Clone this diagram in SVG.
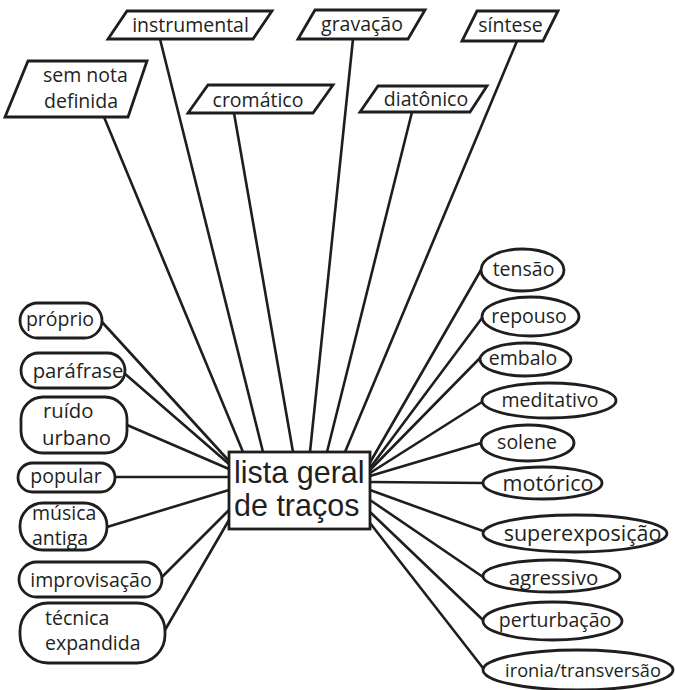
<svg xmlns="http://www.w3.org/2000/svg" width="675" height="690" viewBox="0 0 675 690">
<style>
  .bg { fill: #ffffff; }
  .edge { stroke: #1e1e1e; stroke-width: 2.6; fill: none; stroke-linecap: round; }
  .shape { fill: #ffffff; stroke: #1e1e1e; stroke-width: 2.8; stroke-linejoin: miter; }
  .lbl { font-family: "Open Sans", "Noto Sans", sans-serif; font-size: 19.5px; fill: #231f20; }
  .mid { text-anchor: middle; }
  .center { font-family: "Liberation Sans", Arial, sans-serif; font-size: 30.5px; fill: #231f20; }
</style>
<rect class="bg" x="0" y="0" width="675" height="690"/>

<g id="connectors">
  <line class="edge" x1="104" y1="117" x2="243" y2="452"/>
  <line class="edge" x1="160" y1="39" x2="263" y2="452"/>
  <line class="edge" x1="234" y1="113" x2="293" y2="452"/>
  <line class="edge" x1="353" y1="39" x2="310" y2="452"/>
  <line class="edge" x1="412" y1="112" x2="327" y2="452"/>
  <line class="edge" x1="517" y1="41" x2="345" y2="452"/>

  <line class="edge" x1="102" y1="322" x2="229" y2="461"/>
  <line class="edge" x1="124" y1="373" x2="229" y2="464"/>
  <line class="edge" x1="127" y1="425" x2="229" y2="469"/>
  <line class="edge" x1="115" y1="477" x2="229" y2="477"/>
  <line class="edge" x1="107" y1="527" x2="229" y2="490"/>
  <line class="edge" x1="161" y1="578" x2="229" y2="510"/>
  <line class="edge" x1="165" y1="630" x2="229" y2="520"/>

  <line class="edge" x1="368" y1="466" x2="481" y2="270"/>
  <line class="edge" x1="370" y1="468" x2="482" y2="318"/>
  <line class="edge" x1="370" y1="470" x2="480" y2="358"/>
  <line class="edge" x1="370" y1="473" x2="482" y2="402"/>
  <line class="edge" x1="370" y1="476" x2="481" y2="443"/>
  <line class="edge" x1="370" y1="482" x2="483" y2="483"/>
  <line class="edge" x1="370" y1="490" x2="483" y2="531"/>
  <line class="edge" x1="370" y1="500" x2="483" y2="577"/>
  <line class="edge" x1="370" y1="512" x2="483" y2="620"/>
  <line class="edge" x1="370" y1="523" x2="483" y2="668"/>
</g>

<g id="center">
  <rect class="shape" x="229" y="452" width="141" height="77" stroke-width="3"/>
  <text class="center" x="234" y="483">lista geral</text>
  <text class="center" x="234" y="516">de traços</text>
</g>

<g id="instrumental">
  <polygon class="shape" points="127,11 272,11 253,39 108,39"/>
  <text class="lbl mid" x="190.5" y="32">instrumental</text>
</g>
<g id="gravacao">
  <polygon class="shape" points="315,10 425,10 408,39 298,39"/>
  <text class="lbl mid" x="362" y="31">gravação</text>
</g>
<g id="sintese">
  <polygon class="shape" points="477,11 558,11 543,41 462,41"/>
  <text class="lbl mid" x="510.5" y="32">síntese</text>
</g>
<g id="sem-nota-definida">
  <polygon class="shape" points="28,61 147,61 128,117 5,117"/>
  <text class="lbl" x="43" y="82">sem nota</text>
  <text class="lbl" x="44" y="108">definida</text>
</g>
<g id="cromatico">
  <polygon class="shape" points="208,85 333,85 313,113 188,113"/>
  <text class="lbl mid" x="258" y="107">cromático</text>
</g>
<g id="diatonico">
  <polygon class="shape" points="378,86 487,86 470,112 360,112"/>
  <text class="lbl mid" x="426" y="105.5">diatônico</text>
</g>

<g id="proprio">
  <rect class="shape" x="20" y="303" width="82" height="35" rx="17.5"/>
  <text class="lbl mid" x="60" y="326">próprio</text>
</g>
<g id="parafrase">
  <rect class="shape" x="21" y="353" width="104" height="35" rx="17.5"/>
  <text class="lbl mid" x="78" y="378" style="font-size:20.3px">paráfrase</text>
</g>
<g id="ruido-urbano">
  <rect class="shape" x="21" y="397" width="106" height="56" rx="22"/>
  <text class="lbl" x="43" y="418" style="font-size:20.3px">ruído</text>
  <text class="lbl" x="42" y="445" style="font-size:20.3px">urbano</text>
</g>
<g id="popular">
  <rect class="shape" x="18" y="463" width="97" height="29" rx="14.5"/>
  <text class="lbl mid" x="66" y="483">popular</text>
</g>
<g id="musica-antiga">
  <rect class="shape" x="20" y="503" width="87" height="47" rx="23"/>
  <text class="lbl" x="32" y="520">música</text>
  <text class="lbl" x="32" y="545">antiga</text>
</g>
<g id="improvisacao">
  <rect class="shape" x="19" y="562" width="143" height="35" rx="17.5"/>
  <text class="lbl mid" x="91" y="587">improvisação</text>
</g>
<g id="tecnica-expandida">
  <rect class="shape" x="20" y="603" width="145" height="60" rx="28"/>
  <text class="lbl" x="45" y="625">técnica</text>
  <text class="lbl" x="45" y="650">expandida</text>
</g>

<g id="tensao">
  <ellipse class="shape" cx="522.5" cy="270" rx="41.5" ry="21"/>
  <text class="lbl mid" x="523.5" y="276">tensão</text>
</g>
<g id="repouso">
  <ellipse class="shape" cx="530.5" cy="316.5" rx="48.5" ry="19.5"/>
  <text class="lbl mid" x="529" y="323">repouso</text>
</g>
<g id="embalo">
  <ellipse class="shape" cx="525.5" cy="359.5" rx="45.5" ry="16.5"/>
  <text class="lbl mid" x="523" y="365">embalo</text>
</g>
<g id="meditativo">
  <ellipse class="shape" cx="549" cy="400.5" rx="67" ry="17.5"/>
  <text class="lbl mid" x="550" y="407">meditativo</text>
</g>
<g id="solene">
  <ellipse class="shape" cx="527.5" cy="443" rx="46.5" ry="18"/>
  <text class="lbl mid" x="527" y="449">solene</text>
</g>
<g id="motorico">
  <ellipse class="shape" cx="542.5" cy="483" rx="59.5" ry="16"/>
  <text class="lbl mid" x="548" y="491" style="font-size:21.5px">motórico</text>
</g>
<g id="superexposicao">
  <ellipse class="shape" cx="575" cy="533.5" rx="92" ry="18.5"/>
  <text class="lbl mid" x="582.5" y="541" style="font-size:21.5px">superexposição</text>
</g>
<g id="agressivo">
  <ellipse class="shape" cx="551.5" cy="576" rx="68.5" ry="16"/>
  <text class="lbl mid" x="553.5" y="585" style="font-size:20.5px">agressivo</text>
</g>
<g id="perturbacao">
  <ellipse class="shape" cx="552.5" cy="621" rx="69.5" ry="19"/>
  <text class="lbl mid" x="555" y="627">perturbação</text>
</g>
<g id="ironia-transversao">
  <ellipse class="shape" cx="578" cy="670" rx="95" ry="20"/>
  <text class="lbl mid" x="583" y="677" style="font-size:18.2px">ironia/transversão</text>
</g>
</svg>
